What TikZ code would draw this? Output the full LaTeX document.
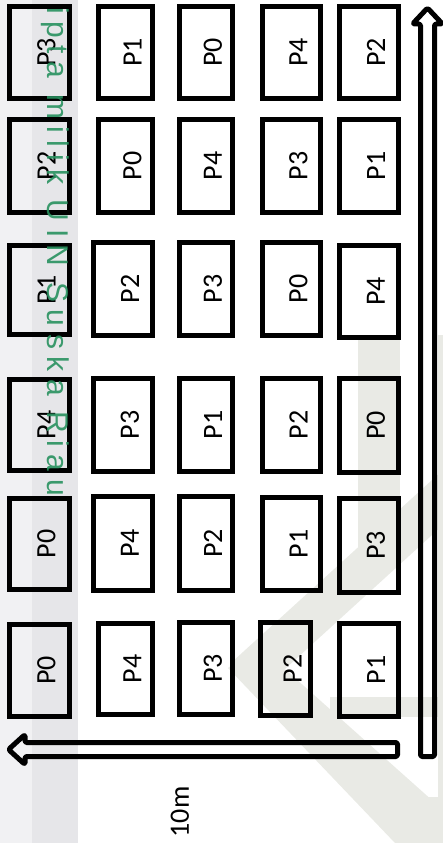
\documentclass[tikz,border=0pt]{standalone}
\usepackage{fontspec}
\setmainfont{Carlito}
\newfontfamily\wmfont[LetterSpace=25]{Liberation Sans}
\definecolor{bandA}{RGB}{241,241,243}
\definecolor{bandB}{RGB}{230,230,233}
\definecolor{logogray}{RGB}{233,234,229}
\definecolor{wmgreen}{RGB}{40,145,95}
\newcommand\mybox[6]{%
  \node[box,minimum width={(#4-#2-5)*1pt},minimum height={(#5-#3-5)*1pt}] (#1) at ({(#2+#4)/2},{(#3+#5)/2}) {};
  \node[lbl] (#1t) at ([xshift=7pt]#1.center) {#6};
}
\begin{document}
\begin{tikzpicture}[x=1pt,y=-1pt,
  box/.style={draw=black,line width=5pt,rectangle,inner sep=0pt,outer sep=0pt},
  lbl/.style={font=\fontsize{28}{28}\selectfont,rotate=90,inner sep=0pt},
  arrowline/.style={draw=black,line width=5pt,line join=round,rounded corners=1.5pt},
  logo/.style={fill=logogray},
  wmtext/.style={font=\wmfont\fontsize{30}{30}\selectfont,text=wmgreen,inner sep=0pt,opacity=0.9}
]
\useasboundingbox (0,0) rectangle (443,843);
\begin{scope}
\clip (0,0) rectangle (443,843);
\fill[bandA] (0,0) rectangle (32,843);
\fill[bandB] (32,0) rectangle (78,843);
\fill[logo] (358,335) rectangle (400,560);
\fill[logo] (438,335) rectangle (443,843);
\fill[logo] (443,470) -- (443,525) -- (262,690) -- (232,662) -- cycle;
\fill[logo] (228,668) -- (258,645) -- (443,810) -- (443,843) -- (395,843) -- cycle;
\fill[logo] (330,697) rectangle (443,717);
\fill[logo] (400,797) rectangle (443,823);
\end{scope}
% row 1
\mybox{b11}{7}{4}{72}{101}{P3}
\mybox{b12}{96}{4}{155}{101}{P1}
\mybox{b13}{177}{4}{235}{101}{P0}
\mybox{b14}{260}{4}{323}{101}{P4}
\mybox{b15}{337}{4}{401}{101}{P2}
% row 2
\mybox{b21}{7}{117}{72}{215}{P2}
\mybox{b22}{96}{117}{155}{215}{P0}
\mybox{b23}{177}{117}{235}{215}{P4}
\mybox{b24}{260}{117}{323}{215}{P3}
\mybox{b25}{337}{117}{401}{215}{P1}
% row 3
\mybox{b31}{7}{243}{72}{337}{P1}
\mybox{b32}{91}{240}{155}{338}{P2}
\mybox{b33}{177}{240}{235}{338}{P3}
\mybox{b34}{260}{240}{323}{338}{P0}
\mybox{b35}{337}{243}{401}{340}{P4}
% row 4
\mybox{b41}{7}{377}{72}{473}{P4}
\mybox{b42}{91}{376}{155}{474}{P3}
\mybox{b43}{177}{376}{235}{474}{P1}
\mybox{b44}{260}{376}{323}{474}{P2}
\mybox{b45}{337}{376}{401}{475}{P0}
% row 5
\mybox{b51}{7}{496}{72}{592}{P0}
\mybox{b52}{91}{494}{155}{593}{P4}
\mybox{b53}{177}{494}{235}{593}{P2}
\mybox{b54}{260}{495}{323}{593}{P1}
\mybox{b55}{337}{496}{401}{595}{P3}
% row 6
\mybox{b61}{7}{622}{72}{719}{P0}
\mybox{b62}{96}{621}{155}{717}{P4}
\mybox{b63}{177}{620}{235}{717}{P3}
\mybox{b64}{258}{620}{313}{718}{P2}
\mybox{b65}{337}{621}{401}{719}{P1}
% arrows
\draw[arrowline] (397.5,742.5) -- (25,742.5) -- (25,734.5) -- (8.5,749.5) -- (25,764.5) -- (25,756.5) -- (397.5,756.5) -- cycle;
\draw[arrowline] (420.5,756.5) -- (420.5,24) -- (412.5,24) -- (427.5,8) -- (442.5,24) -- (434.5,24) -- (434.5,756.5) -- cycle;
\node[lbl] (dist) at (180,812) {10m};
% watermark text
\node[wmtext,rotate=-90,anchor=base east] (wm) at (47,496) {ipta milik UIN Suska Riau};
\end{tikzpicture}
\end{document}
